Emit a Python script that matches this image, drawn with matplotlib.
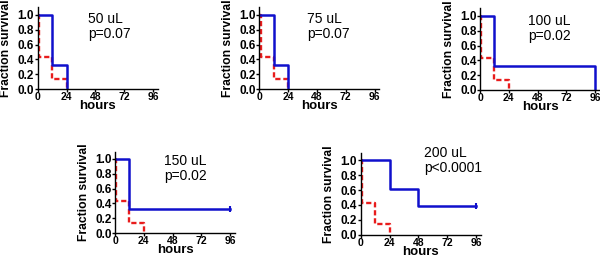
import matplotlib
matplotlib.use("Agg")
import matplotlib.pyplot as plt

plt.rcParams['font.family'] = ['Liberation Sans', 'DejaVu Sans']

# Dados
doses = ['50 uL', '75 uL', '100 uL', '150 uL', '200 uL']
pvals = ['p=0.07', 'p=0.07', 'p=0.02', 'p=0.02', 'p<0.0001']

ctrl_t = [0, 1, 12, 24]
ctrl_s = [1.0, 0.43, 0.14, 0.0]

trt_t = [
    [0, 12, 24],
    [0, 12, 24],
    [0, 12, 96],
    [0, 12, 96],
    [0, 24, 48, 96],
]
trt_s = [
    [1.0, 0.33, 0.0],
    [1.0, 0.33, 0.0],
    [1.0, 0.33, 0.0],
    [1.0, 0.33, 0.33],
    [1.0, 0.62, 0.38, 0.38],
]
censored = [False, False, False, True, True]

xticks = [0, 24, 48, 72, 96]
yticks = [0.0, 0.2, 0.4, 0.6, 0.8, 1.0]

# posição dos painéis (pixels: origem x, y do zero)
W, H = 600, 256
boxes = [(37.7, 89), (259.3, 89), (480, 90), (115, 233), (360.7, 234.5)]
text_x = [42, 40, 40, 41, 53]
text_y = [1.04, 1.04, 1.03, 1.07, 1.19]

fig = plt.figure(figsize=(6, 2.56), dpi=100)
for i in range(5):
    x0, y0 = boxes[i]
    ax = fig.add_axes([x0 / W, 1 - y0 / H, 120 / W, 81.5 / H])
    ax.step(ctrl_t, ctrl_s, where='post', color='#e81c1c', lw=1.7,
            ls=(0, (2.2, 1.2)))
    ax.step(trt_t[i], trt_s[i], where='post', color='#1010cc', lw=1.8)
    if censored[i]:
        ax.plot(trt_t[i][-1], trt_s[i][-1], marker='|', color='#1010cc',
                ms=4, mew=1.5)
    ax.set_xlim(0, 100)
    ax.set_ylim(0, 1.1)
    ax.set_xticks(xticks)
    ax.set_yticks(yticks)
    ax.set_yticklabels([f'{v:.1f}' for v in yticks])
    for s in ['top', 'right']:
        ax.spines[s].set_visible(False)
    for s in ['left', 'bottom']:
        ax.spines[s].set_linewidth(1.0)
    ax.tick_params(axis='x', length=2.5, width=1, labelsize=7.5, pad=0)
    ax.tick_params(axis='y', length=2.5, width=1, labelsize=8.5, pad=0)
    for lab in ax.get_xticklabels() + ax.get_yticklabels():
        lab.set_fontweight('bold')
    ax.set_xlabel('hours', fontsize=9.5, fontweight='bold')
    ax.xaxis.set_label_coords(0.5, -0.135)
    ax.xaxis.label.set_va('top')
    ax.set_ylabel('Fraction survival', fontsize=8.7, fontweight='bold')
    ax.yaxis.set_label_coords(-0.21, 0.5)
    ax.text(text_x[i], text_y[i], doses[i] + '\n' + pvals[i], fontsize=10,
            va='top', ha='left', linespacing=1.1, clip_on=False)

plt.savefig('out.png', dpi=100)
